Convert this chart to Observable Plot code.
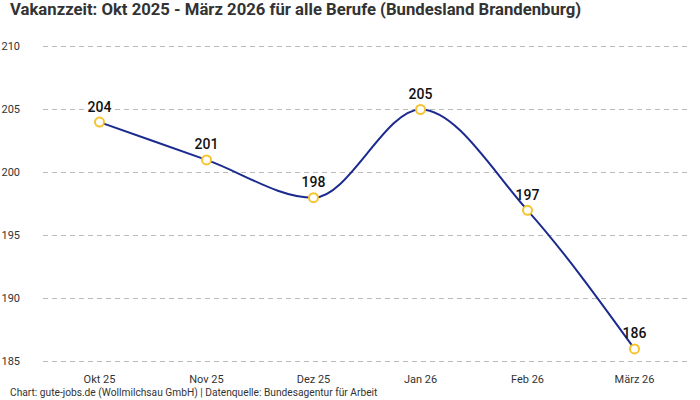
<!DOCTYPE html>
<html><head><meta charset="utf-8">
<script src="https://cdn.jsdelivr.net/npm/d3@7"></script>
<script src="https://cdn.jsdelivr.net/npm/@observablehq/plot@0.6"></script>
<style>
body{margin:0;background:#fff;font-family:Roboto,"Noto Sans",sans-serif;}
#wrap{width:700px;height:400px;position:relative;overflow:hidden;}
#title{position:absolute;left:10px;top:0px;font-size:16.7px;font-weight:700;color:#333;white-space:nowrap;}
#chart{position:absolute;left:0;top:30px;}
#cap{position:absolute;left:10px;top:387px;font-size:10.2px;color:#333;white-space:nowrap;}
</style></head>
<body><div id="wrap">
<div id="title">Vakanzzeit: Okt 2025 - März 2026 für alle Berufe (Bundesland Brandenburg)</div>
<div id="chart"></div>
<div id="cap">Chart: gute-jobs.de (Wollmilchsau GmbH) | Datenquelle: Bundesagentur für Arbeit</div>
</div>
<script>
const months = ["Okt 25","Nov 25","Dez 25","Jan 26","Feb 26","März 26"];
const values = [204, 201, 198, 205, 197, 186];
const yTicks = [185, 190, 195, 200, 205, 210];
const data = months.map((m, i) => ({month: m, value: values[i]}));

const chart = Plot.plot({
  width: 700,
  height: 355,
  marginLeft: 43,
  marginRight: 10,
  marginTop: 16,
  marginBottom: 24,
  style: {fontFamily: "Roboto, 'Noto Sans', sans-serif", fontSize: "11px", color: "#333"},
  x: {type: "point", domain: months, padding: 0.5, label: null},
  y: {domain: [185, 210], label: null},
  marks: [
    Plot.gridY(yTicks, {stroke: "#bbb", strokeOpacity: 1, strokeDasharray: "5,4", strokeWidth: 1}),
    Plot.axisY(yTicks, {tickSize: 0, textAnchor: "start", dx: -33, fontSize: 11, fill: "#333", label: null}),
    Plot.axisX({tickSize: 0, dy: 5, fontSize: 11, fill: "#333", label: null}),
    Plot.line(data, {x: "month", y: "value", curve: "monotone-x", stroke: "#1b2a8f", strokeWidth: 2}),
    Plot.dot(data, {x: "month", y: "value", r: 4.5, fill: "white", stroke: "#f6c32c", strokeWidth: 2}),
    Plot.text(data, {x: "month", y: "value", text: d => String(d.value), dy: -15, fontSize: 14, fontWeight: 500, fill: "#111"})
  ]
});
document.getElementById("chart").appendChild(chart);
</script>
</body></html>
